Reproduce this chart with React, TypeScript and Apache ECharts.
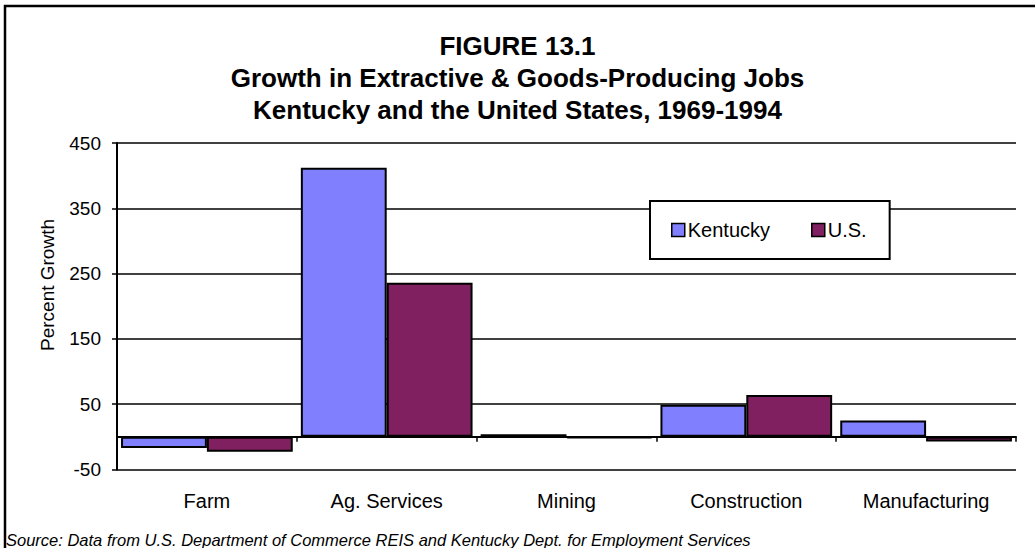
import React, { useEffect, useRef } from "react";
import * as echarts from "echarts";

const categories = ["Farm", "Ag. Services", "Mining", "Construction", "Manufacturing"];
const kentucky = [-17, 412, 4, 49, 25];
const unitedStates = [-23, 236, -2, 64, -7];
const yTicks = [-50, 50, 150, 250, 350, 450];
const titleLines = [
  "FIGURE 13.1",
  "Growth in Extractive & Goods-Producing Jobs",
  "Kentucky and the United States, 1969-1994",
];
const sourceText =
  "Source: Data from U.S. Department of Commerce REIS and Kentucky Dept. for Employment Services";

const FONT = "'Liberation Sans', Arial, sans-serif";

export default function App() {
  const ref = useRef<HTMLDivElement>(null);
  useEffect(() => {
    if (!ref.current) return;
    const chart = echarts.init(ref.current, null, { renderer: "svg" });
    chart.setOption({
      animation: false,
      backgroundColor: "#fff",
      textStyle: { fontFamily: FONT },
      title: {
        text: titleLines.join("\n"),
        left: "center",
        top: 30,
        padding: 0,
        textStyle: {
          fontFamily: FONT,
          fontSize: 26,
          fontWeight: "bold",
          lineHeight: 32,
          color: "#000",
        },
      },
      legend: {
        left: 650,
        top: 201,
        orient: "horizontal",
        backgroundColor: "#fff",
        borderColor: "#000",
        borderWidth: 2,
        borderRadius: 0,
        padding: [19, 23, 19, 21],
        itemWidth: 13,
        itemHeight: 13,
        itemGap: 41,
        icon: "rect",
        itemStyle: { borderColor: "#000", borderWidth: 1.5 },
        textStyle: { fontFamily: FONT, fontSize: 20, color: "#000", padding: [0, 0, 0, -2] },
        data: ["Kentucky", "U.S."],
      },
      grid: { left: 117, right: 19, top: 143, bottom: 78.5, containLabel: false },
      xAxis: [
        {
          type: "category",
          data: categories,
          position: "bottom",
          axisLine: { show: true, onZero: true, lineStyle: { color: "#000", width: 2 } },
          axisTick: { show: true, length: 5, inside: false, lineStyle: { color: "#000", width: 1.5 } },
          axisLabel: { show: false },
          splitLine: { show: false },
        },
        {
          type: "category",
          data: categories,
          position: "bottom",
          axisLine: { show: false, onZero: false },
          axisTick: { show: false },
          axisLabel: { show: true, margin: 21, fontFamily: FONT, fontSize: 20, color: "#000" },
          splitLine: { show: false },
        },
      ],
      yAxis: {
        type: "value",
        min: -50,
        max: 450,
        axisLine: { show: true, lineStyle: { color: "#000", width: 2 } },
        axisTick: { show: true, length: 5, customValues: yTicks, lineStyle: { color: "#000", width: 1.5 } },
        axisLabel: { customValues: yTicks, margin: 16, fontFamily: FONT, fontSize: 19, color: "#000" },
        splitLine: { show: true, lineStyle: { color: "#000", width: 1.5 } },
      },
      series: [
        {
          name: "Kentucky",
          type: "bar",
          xAxisIndex: 0,
          data: kentucky,
          barGap: "0%",
          barCategoryGap: "4.5%",
          itemStyle: { color: "#8080FF", borderColor: "#000", borderWidth: 2 },
        },
        {
          name: "U.S.",
          type: "bar",
          xAxisIndex: 0,
          data: unitedStates,
          barGap: "0%",
          barCategoryGap: "4.5%",
          itemStyle: { color: "#802060", borderColor: "#000", borderWidth: 2 },
        },
      ],
      graphic: [
        {
          type: "rect",
          shape: { x: 5, y: 6, width: 1200, height: 700 },
          style: { fill: "none", stroke: "#000", lineWidth: 2.5 },
          silent: true,
          z: 100,
        },
        {
          type: "text",
          x: 47,
          y: 285,
          rotation: Math.PI / 2,
          style: {
            text: "Percent Growth",
            font: `19px ${FONT}`,
            fill: "#000",
            align: "center",
            verticalAlign: "middle",
          },
        },
        {
          type: "text",
          x: 6,
          y: 540,
          style: {
            text: sourceText,
            font: `italic 16.5px ${FONT}`,
            fill: "#000",
            align: "left",
            verticalAlign: "middle",
          },
        },
      ],
    });
    return () => chart.dispose();
  }, []);
  return (
    <div
      ref={ref}
      style={{ position: "fixed", left: 0, top: 0, width: 1035, height: 548 }}
    />
  );
}
